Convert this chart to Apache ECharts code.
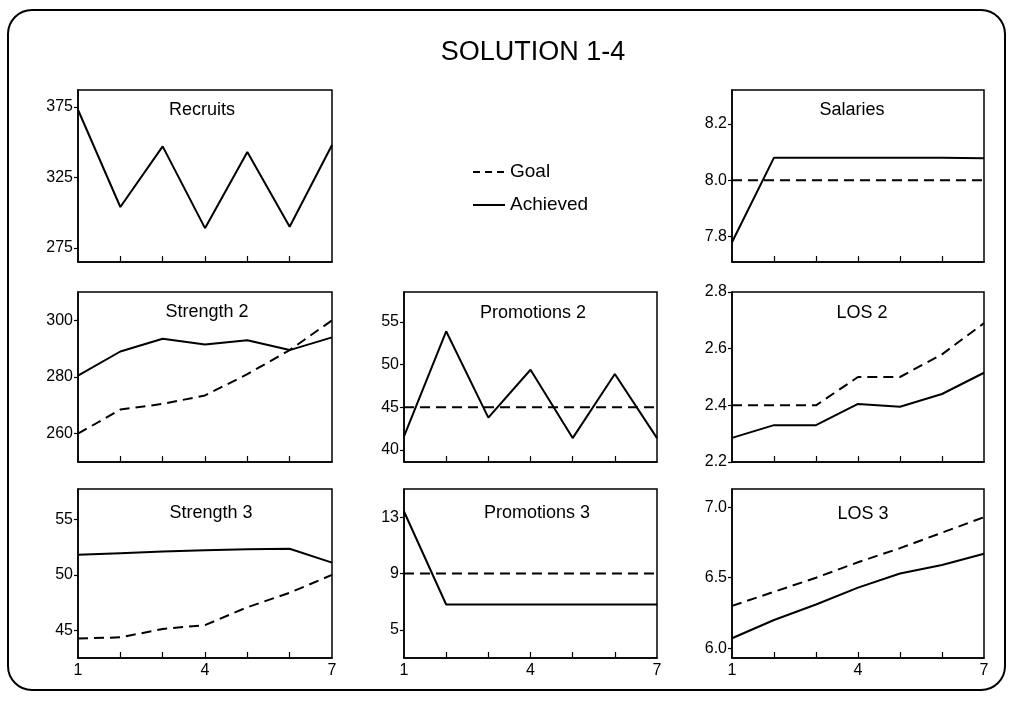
<!DOCTYPE html>
<html>
<head>
<meta charset="utf-8">
<style>
  html, body { margin: 0; padding: 0; background: #fff; }
  #chart { width: 1013px; height: 704px; }
</style>
<script src="https://cdn.jsdelivr.net/npm/echarts@6/dist/echarts.min.js"></script>
</head>
<body>
<div id="chart"></div>
<script>
// ---------- DATA ----------
const xValues = [1, 2, 3, 4, 5, 6, 7];
const xLabelValues = [1, 4, 7];
const xTickValues = [2, 3, 4, 5, 6];

const recruitsAchieved = [373, 304, 347, 289, 343, 290, 348];

const salariesGoal = [8.0, 8.0, 8.0, 8.0, 8.0, 8.0, 8.0];
const salariesAchieved = [7.78, 8.08, 8.08, 8.08, 8.08, 8.08, 8.078];

const strength2Goal = [260, 268.5, 270.5, 273.5, 281, 289.5, 300];
const strength2Achieved = [280.5, 289, 293.5, 291.5, 293, 289.5, 294];

const promotions2Goal = [45, 45, 45, 45, 45, 45, 45];
const promotions2Achieved = [41.6, 53.9, 43.8, 49.4, 41.4, 48.9, 41.4];

const los2Goal = [2.4, 2.4, 2.4, 2.5, 2.5, 2.58, 2.69];
const los2Achieved = [2.285, 2.33, 2.33, 2.405, 2.395, 2.44, 2.515];

const strength3Goal = [44.3, 44.4, 45.15, 45.5, 47.1, 48.4, 50];
const strength3Achieved = [51.8, 51.95, 52.1, 52.2, 52.3, 52.35, 51.1];

const promotions3Goal = [9, 9, 9, 9, 9, 9, 9];
const promotions3Achieved = [13.4, 6.8, 6.8, 6.8, 6.8, 6.8, 6.8];

const los3Goal = [6.3, 6.4, 6.5, 6.61, 6.71, 6.82, 6.93];
const los3Achieved = [6.07, 6.2, 6.31, 6.43, 6.53, 6.59, 6.67];

const recruitsTicks = [275, 325, 375];
const salariesTicks = [7.8, 8.0, 8.2];
const strength2Ticks = [260, 280, 300];
const promotions2Ticks = [40, 45, 50, 55];
const los2Ticks = [2.2, 2.4, 2.6, 2.8];
const strength3Ticks = [45, 50, 55];
const promotions3Ticks = [5, 9, 13];
const los3Ticks = [6.0, 6.5, 7.0];

const mainTitle = 'SOLUTION 1-4';
const seriesNames = ['Goal', 'Achieved'];

// ---------- LAYOUT ----------
const FONT = '"Liberation Sans", Arial, sans-serif';
const colLeft = [78, 404, 732];
const colWidth = [254, 253, 252];
const rowTop = [90, 292, 489];
const rowHeight = [172, 170, 169];

const panels = [
  { name: 'Recruits', col: 0, row: 0, min: 265, max: 387, ticks: recruitsTicks, dec: 0, goal: null, ach: recruitsAchieved, tx: 202, ty: 110 },
  { name: 'Salaries', col: 2, row: 0, min: 7.71, max: 8.32, ticks: salariesTicks, dec: 1, goal: salariesGoal, ach: salariesAchieved, tx: 852, ty: 110 },
  { name: 'Strength 2', col: 0, row: 1, min: 250, max: 310, ticks: strength2Ticks, dec: 0, goal: strength2Goal, ach: strength2Achieved, tx: 207, ty: 312 },
  { name: 'Promotions 2', col: 1, row: 1, min: 38.6, max: 58.5, ticks: promotions2Ticks, dec: 0, goal: promotions2Goal, ach: promotions2Achieved, tx: 533, ty: 313 },
  { name: 'LOS 2', col: 2, row: 1, min: 2.2, max: 2.8, ticks: los2Ticks, dec: 1, goal: los2Goal, ach: los2Achieved, tx: 862, ty: 313 },
  { name: 'Strength 3', col: 0, row: 2, min: 42.55, max: 57.7, ticks: strength3Ticks, dec: 0, goal: strength3Goal, ach: strength3Achieved, tx: 211, ty: 513 },
  { name: 'Promotions 3', col: 1, row: 2, min: 3, max: 15, ticks: promotions3Ticks, dec: 0, goal: promotions3Goal, ach: promotions3Achieved, tx: 537, ty: 513 },
  { name: 'LOS 3', col: 2, row: 2, min: 5.93, max: 7.13, ticks: los3Ticks, dec: 1, goal: los3Goal, ach: los3Achieved, tx: 863, ty: 514 }
];

const grids = [], xAxes = [], yAxes = [], series = [];
const graphics = [
  { type: 'rect', shape: { x: 8, y: 10, width: 997, height: 680, r: 24 },
    style: { fill: 'none', stroke: '#000', lineWidth: 2 }, silent: true },
  { type: 'text', x: 533, y: 53, style: { text: mainTitle, font: '27px ' + FONT, fill: '#000', align: 'center', verticalAlign: 'middle' } }
];

const pair = arr => xValues.map((x, i) => [x, arr[i]]);

panels.forEach((p, i) => {
  grids.push({
    left: colLeft[p.col], top: rowTop[p.row], width: colWidth[p.col], height: rowHeight[p.row],
    show: true, borderColor: '#000', borderWidth: 1.5, backgroundColor: 'transparent', containLabel: false
  });
  const bottomRow = p.row === 2;
  xAxes.push({
    type: 'value', gridIndex: i, min: 1, max: 7,
    axisLine: { show: true, lineStyle: { color: '#000', width: 1.5 } },
    axisTick: { show: true, inside: true, length: 6, customValues: xTickValues, lineStyle: { color: '#000', width: 1.2 } },
    axisLabel: { show: bottomRow, customValues: xLabelValues, color: '#000', fontSize: 16, fontFamily: FONT, margin: 5 },
    splitLine: { show: false }
  });
  yAxes.push({
    type: 'value', gridIndex: i, min: p.min, max: p.max,
    axisLine: { show: true, lineStyle: { color: '#000', width: 1.5 } },
    axisTick: { show: true, inside: false, length: 4, customValues: p.ticks, lineStyle: { color: '#000', width: 1.2 } },
    axisLabel: { show: true, customValues: p.ticks, color: '#000', fontSize: 16, fontFamily: FONT, margin: 5,
      formatter: v => Number(v).toFixed(p.dec) },
    splitLine: { show: false }
  });
  if (p.goal) {
    series.push({
      name: 'Goal', type: 'line', xAxisIndex: i, yAxisIndex: i, data: pair(p.goal),
      symbol: 'none', silent: true, animation: false,
      lineStyle: { color: '#000', width: 2, type: [10, 6] }, itemStyle: { color: '#000' }
    });
  }
  series.push({
    name: 'Achieved', type: 'line', xAxisIndex: i, yAxisIndex: i, data: pair(p.ach),
    symbol: 'none', silent: true, animation: false,
    lineStyle: { color: '#000', width: 2, type: 'solid' }, itemStyle: { color: '#000' }
  });
  graphics.push({ type: 'text', x: p.tx, y: p.ty,
    style: { text: p.name, font: '18px ' + FONT, fill: '#000', align: 'center', verticalAlign: 'middle' } });
});

const chart = echarts.init(document.getElementById('chart'), null, { renderer: 'canvas' });
chart.setOption({
  backgroundColor: '#fff',
  animation: false,
  legend: {
    data: [
      { name: seriesNames[0], lineStyle: { type: [7, 5], width: 2 } },
      { name: seriesNames[1], lineStyle: { type: 'solid', width: 2 } }
    ],
    orient: 'vertical', left: 472, top: 162, padding: 0,
    itemWidth: 32, itemHeight: 14, itemGap: 13, selectedMode: false,
    itemStyle: { opacity: 0 },
    textStyle: { color: '#000', fontSize: 19, fontFamily: FONT, lineHeight: 20 }
  },
  grid: grids,
  xAxis: xAxes,
  yAxis: yAxes,
  series: series,
  graphic: graphics
});
</script>
</body>
</html>
